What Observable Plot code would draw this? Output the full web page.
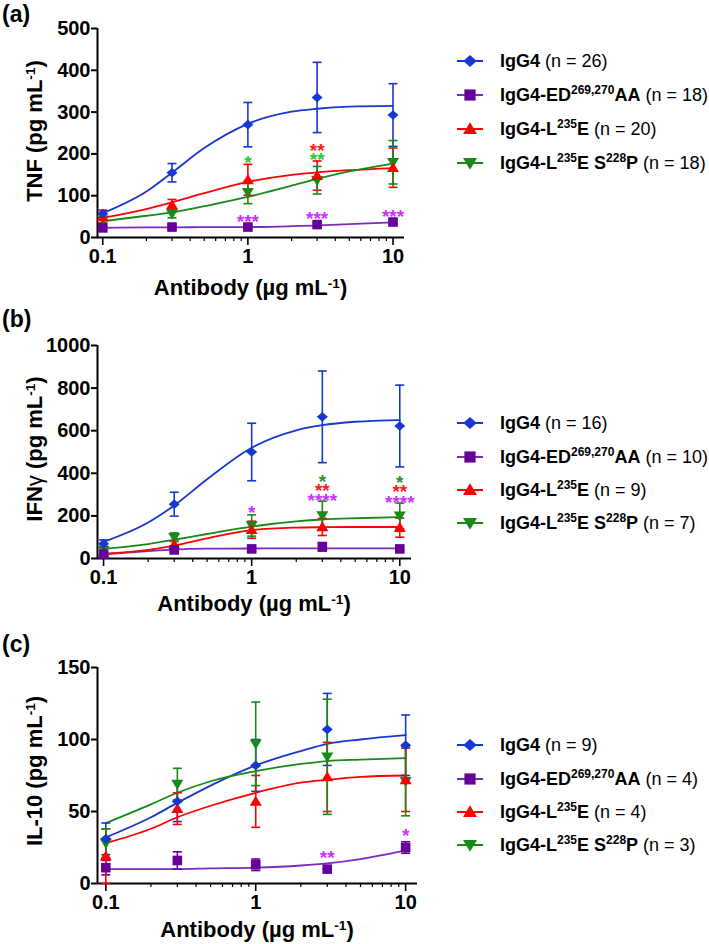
<!DOCTYPE html>
<html>
<head>
<meta charset="utf-8">
<script src="https://cdn.jsdelivr.net/npm/d3@7"></script>
<script src="https://cdn.jsdelivr.net/npm/@observablehq/plot@0.6"></script>
<style>
  body { margin: 0; background: #fff; font-family: "Liberation Sans", Arial, sans-serif; }
  #root { position: relative; width: 709px; height: 944px; overflow: hidden; background: #fff; }
  #root svg.plotsvg { position: absolute; left: 0; overflow: visible; }
  .t { position: absolute; white-space: nowrap; font-weight: bold; color: #000; line-height: 1; }
  .t sup { font-size: 0.62em; vertical-align: 0.55em; line-height: 0; }
  .leg { position: absolute; left: 456px; height: 22px; display: flex; align-items: center; white-space: nowrap; font-size: 18px; color: #000; }
  .leg svg { flex: none; }
  .leg .nm { font-weight: bold; margin-left: 16px; }
  .leg sup { font-size: 12px; vertical-align: 7px; line-height: 0; }
</style>
</head>
<body>
<div id="root"></div>
<script>
// ---------------- DATA ----------------
const doses = [0.1, 0.3, 1, 3, 10];
const fitDoses = [0.1, 0.2, 0.3, 0.5, 1, 2, 3, 5, 10];
const minorTicks = [0.2, 0.3, 0.4, 0.5, 0.6, 0.7, 0.8, 0.9, 2, 3, 4, 5, 6, 7, 8, 9];
const majorTicks = [0.1, 1, 10];

// (a) TNF
const tnfTicks = [0, 100, 200, 300, 400, 500];
const tnfN = [26, 18, 20, 18];
const tnfIgG4 = [57, 155, 270, 335, 293];
const tnfIgG4Err = [8, 22, 53, 84, 75];
const tnfED = [23, 25, 25, 31, 37];
const tnfEDErr = [4, 4, 4, 5, 5];
const tnfL235E = [50, 78, 138, 148, 167];
const tnfL235EErr = [15, 13, 37, 35, 47];
const tnfS228P = [42, 57, 108, 137, 180];
const tnfS228PErr = [8, 10, 27, 33, 52];
const tnfFitIgG4 = [58, 110, 155, 214, 272, 301, 308, 313, 315];
const tnfFitED = [23, 24, 24, 25, 25, 27, 29, 32, 36];
const tnfFitL235E = [47, 68, 84, 106, 133, 150, 156, 161, 166];
const tnfFitS228P = [39, 52, 60, 75, 97, 124, 140, 158, 177];
const tnfStarDose = [1, 1, 3, 3, 3, 10];
const tnfStarY = [192, 51, 221, 199, 58, 64];
const tnfStarText = ["*", "***", "**", "**", "***", "***"];
const tnfStarSeries = [3, 1, 2, 3, 1, 1];

// (b) IFNγ
const ifnTicks = [0, 200, 400, 600, 800, 1000];
const ifnN = [16, 10, 9, 7];
const ifnIgG4 = [69, 255, 500, 665, 622];
const ifnIgG4Err = [18, 56, 135, 215, 192];
const ifnED = [20, 40, 45, 55, 45];
const ifnEDErr = [6, 8, 10, 20, 8];
const ifnL235E = [25, 66, 135, 148, 145];
const ifnL235EErr = [10, 15, 40, 40, 45];
const ifnS228P = [40, 100, 155, 202, 200];
const ifnS228PErr = [12, 20, 50, 67, 60];
const ifnFitIgG4 = [78, 169, 249, 372, 520, 602, 626, 642, 650];
const ifnFitED = [20, 35, 42, 46, 47, 48, 48, 48, 48];
const ifnFitL235E = [22, 40, 60, 95, 133, 145, 147, 148, 148];
const ifnFitS228P = [45, 68, 88, 115, 150, 174, 183, 189, 194];
const ifnStarDose = [1, 3, 3, 3, 10, 10, 10];
const ifnStarY = [244, 386, 346, 300, 385, 339, 291];
const ifnStarText = ["*", "*", "**", "****", "*", "**", "****"];
const ifnStarSeries = [1, 3, 2, 1, 3, 2, 1];

// (c) IL-10
const il10Ticks = [0, 50, 100, 150];
const il10N = [9, 4, 4, 3];
const il10IgG4 = [31, 57, 82, 107, 96];
const il10IgG4Err = [11, 14, 18, 25, 21];
const il10ED = [11, 16, 13, 10, 25];
const il10EDErr = [5, 6, 4, 0, 4];
const il10L235E = [19, 52, 57, 74, 72];
const il10L235EErr = [19, 11, 18, 24, 22];
const il10S228P = [28, 69, 97, 88, 71];
const il10S228PErr = [10, 11, 29, 40, 24];
const il10FitIgG4 = [32, 46, 56, 68, 82, 92, 97, 100, 103];
const il10FitED = [10, 10, 10, 10.5, 11, 12.5, 14, 17, 23];
const il10FitL235E = [28, 38, 46, 54, 63, 70, 72, 74, 75];
const il10FitS228P = [42, 55, 63, 71, 78, 83, 85, 86, 87];
const il10StarDose = [3, 10];
const il10StarY = [22, 37];
const il10StarText = ["**", "*"];
const il10StarSeries = [1, 1];

// ---------------- STYLE ----------------
const markerColors = ["#1836d0", "#660099", "#ff0000", "#178a17"];
const lineColors = ["#1836d0", "#7a2bbd", "#ff0000", "#178a17"];
const legendNames = [
  "IgG4",
  "IgG4-ED<sup>269,270</sup>AA",
  "IgG4-L<sup>235</sup>E",
  "IgG4-L<sup>235</sup>E S<sup>228</sup>P"
];

const rOf = size => Math.sqrt(size / Math.PI);
const symDiamond = { draw(c, s) { const r = rOf(s); c.moveTo(0, -r * 1.05); c.lineTo(r * 1.2, 0); c.lineTo(0, r * 1.05); c.lineTo(-r * 1.2, 0); c.closePath(); } };
const symSquare = { draw(c, s) { const r = rOf(s); c.rect(-r, -r, 2 * r, 2 * r); } };
const symUp = { draw(c, s) { const r = rOf(s); c.moveTo(0, -r * 1.2); c.lineTo(r * 1.25, r * 0.9); c.lineTo(-r * 1.25, r * 0.9); c.closePath(); } };
const symDown = { draw(c, s) { const r = rOf(s); c.moveTo(0, r * 1.2); c.lineTo(r * 1.25, -r * 0.9); c.lineTo(-r * 1.25, -r * 0.9); c.closePath(); } };
const symCap = { draw(c, s) { const r = rOf(s); c.moveTo(-r, 0); c.lineTo(r, 0); } };
const symbols = [symDiamond, symSquare, symUp, symDown];

const panels = [
  {
    top: 0, height: 305, mt: 28, mb: 68, mr: 305, xDomain: [0.092, 12], yDomain: [0, 500], yTicks: tnfTicks,
    means: [tnfIgG4, tnfED, tnfL235E, tnfS228P], errs: [tnfIgG4Err, tnfEDErr, tnfL235EErr, tnfS228PErr],
    fits: [tnfFitIgG4, tnfFitED, tnfFitL235E, tnfFitS228P],
    stars: [tnfStarDose, tnfStarY, tnfStarText, tnfStarSeries], n: tnfN,
    starColors: ["#1836d0", "#cc33ff", "#ff1a1a", "#33c733"],
    letter: "(a)", letterY: 3, yTitle: "TNF (pg mL<sup>-1</sup>)", yTitleY: 131, xTitleY: 288, legendY: [61, 95, 129, 163]
  },
  {
    top: 305, height: 315, mt: 40, mb: 62, mr: 298, xDomain: [0.091, 12], yDomain: [0, 1000], yTicks: ifnTicks,
    means: [ifnIgG4, ifnED, ifnL235E, ifnS228P], errs: [ifnIgG4Err, ifnEDErr, ifnL235EErr, ifnS228PErr],
    fits: [ifnFitIgG4, ifnFitED, ifnFitL235E, ifnFitS228P],
    stars: [ifnStarDose, ifnStarY, ifnStarText, ifnStarSeries], n: ifnN,
    starColors: ["#1836d0", "#cc33ff", "#ff1a1a", "#2a962a"],
    letter: "(b)", letterY: 308, yTitle: "IFN<span style=\"font-weight:normal\">γ</span> (pg mL<sup>-1</sup>)", yTitleY: 449, xTitleY: 604, legendY: [423, 457, 490, 523]
  },
  {
    top: 620, height: 324, mt: 47, mb: 61, mr: 292, xDomain: [0.088, 12], yDomain: [0, 150], yTicks: il10Ticks,
    means: [il10IgG4, il10ED, il10L235E, il10S228P], errs: [il10IgG4Err, il10EDErr, il10L235EErr, il10S228PErr],
    fits: [il10FitIgG4, il10FitED, il10FitL235E, il10FitS228P],
    stars: [il10StarDose, il10StarY, il10StarText, il10StarSeries], n: il10N,
    starColors: ["#1836d0", "#cc33ff", "#ff1a1a", "#2a962a"],
    letter: "(c)", letterY: 633, yTitle: "IL-10 (pg mL<sup>-1</sup>)", yTitleY: 771, xTitleY: 930, legendY: [745, 779, 812, 845]
  }
];

const root = document.getElementById("root");
function addDiv(cls, html, css) {
  const d = document.createElement("div");
  d.className = cls;
  d.innerHTML = html;
  Object.assign(d.style, css);
  root.appendChild(d);
  return d;
}

panels.forEach(p => {
  const marks = [];
  // axes
  marks.push(Plot.axisY({ ticks: p.yTicks, tickSize: 6, tickPadding: 1, tickFormat: d => String(d), label: null, strokeWidth: 2 }));
  marks.push(Plot.axisX({ ticks: majorTicks, tickSize: 8, tickPadding: 3, tickFormat: d => String(d), label: null, strokeWidth: 1.6 }));
  marks.push(Plot.axisX({ ticks: minorTicks, tickSize: 4, tickFormat: () => "", label: null, strokeWidth: 1.2 }));
  marks.push(Plot.ruleX([p.xDomain[0]], { stroke: "#000", strokeWidth: 2 }));
  marks.push(Plot.ruleY([p.yDomain[0]], { stroke: "#000", strokeWidth: 2 }));
  // fitted curves
  [0, 1, 2, 3].forEach(s => {
    const fit = fitDoses.map((d, i) => ({ dose: d, v: p.fits[s][i] }));
    marks.push(Plot.line(fit, { x: "dose", y: "v", stroke: lineColors[s], strokeWidth: 1.8, curve: "monotone-x" }));
  });
  // error bars
  [0, 1, 2, 3].forEach(s => {
    const rows = doses.map((d, i) => ({ dose: d, mean: p.means[s][i], lo: Math.max(0, p.means[s][i] - p.errs[s][i]), hi: p.means[s][i] + p.errs[s][i] }));
    const col = markerColors[s];
    marks.push(Plot.ruleX(rows, { x: "dose", y1: "lo", y2: "hi", stroke: col, strokeWidth: 1.6 }));
    marks.push(Plot.dot(rows, { x: "dose", y: "lo", symbol: symCap, r: 4.5, stroke: col, strokeWidth: 1.6, fill: "none" }));
    marks.push(Plot.dot(rows, { x: "dose", y: "hi", symbol: symCap, r: 4.5, stroke: col, strokeWidth: 1.6, fill: "none" }));
  });
  // markers
  [3, 2, 1, 0].forEach(s => {
    const rows = doses.map((d, i) => ({ dose: d, mean: p.means[s][i] }));
    marks.push(Plot.dot(rows, { x: "dose", y: "mean", symbol: symbols[s], r: s === 0 ? 4.6 : 4.8, fill: markerColors[s], stroke: "none" }));
  });
  // significance stars
  const [sd, sy, st, ss] = p.stars;
  const starRows = sd.map((d, i) => ({ dose: d, y: sy[i], t: st[i], c: p.starColors[ss[i]] }));
  marks.push(Plot.text(starRows, { x: "dose", y: "y", text: "t", fill: "c", fontSize: 19, fontWeight: "bold", dy: 6 }));

  const svg = Plot.plot({
    width: 709, height: p.height,
    marginLeft: 97, marginRight: p.mr, marginTop: p.mt, marginBottom: p.mb,
    x: { type: "log", domain: p.xDomain },
    y: { domain: p.yDomain },
    color: { type: "identity" },
    style: { fontFamily: "'Liberation Sans', Arial, sans-serif", fontSize: "20px", fontWeight: "bold", color: "#000", background: "transparent", overflow: "visible" },
    marks
  });
  svg.classList.add("plotsvg");
  svg.style.top = p.top + "px";
  svg.style.position = "absolute";
  root.appendChild(svg);

  // panel letter
  addDiv("t", p.letter, { left: "2px", top: p.letterY + "px", fontSize: "23px" });
  // y title
  addDiv("t", p.yTitle, { left: "35px", top: p.yTitleY + "px", fontSize: "22px", transform: "translate(-50%,-50%) rotate(-90deg)" });
  // x title
  const xCenter = (97 + (709 - p.mr)) / 2;
  addDiv("t", "Antibody (µg mL<sup>-1</sup>)", { left: xCenter + "px", top: p.xTitleY + "px", fontSize: "22px", transform: "translate(-50%,-50%)" });

  // legend
  [0, 1, 2, 3].forEach(s => {
    const path = d3.symbol().type(symbols[s]).size(Math.PI * 5.6 * 5.6)();
    const html = `<svg width="28" height="22" viewBox="0 0 28 22"><line x1="1" x2="27" y1="11" y2="11" stroke="${lineColors[s]}" stroke-width="2"/><path transform="translate(14,11)" d="${path}" fill="${markerColors[s]}"/></svg><span class="nm">${legendNames[s]}</span><span>&nbsp;(n = ${p.n[s]})</span>`;
    addDiv("leg", html, { top: (p.legendY[s] - 11) + "px" });
  });
});
</script>
</body>
</html>
